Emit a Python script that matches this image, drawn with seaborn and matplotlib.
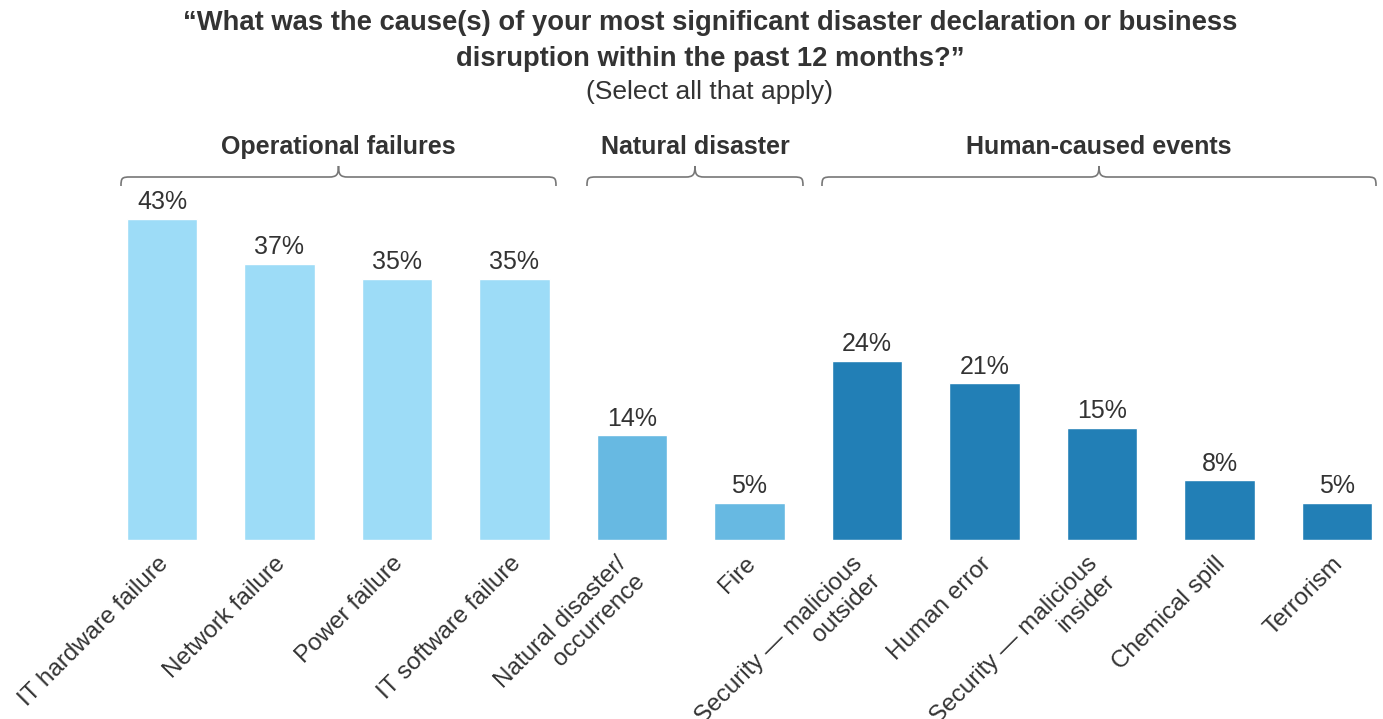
import matplotlib
matplotlib.use("Agg")
import matplotlib.pyplot as plt
from matplotlib.path import Path
from matplotlib.patches import PathPatch
from matplotlib.transforms import ScaledTranslation
import seaborn as sns
import pandas as pd

categories = ["IT hardware failure", "Network failure", "Power failure", "IT software failure",
              "Natural disaster/\noccurrence", "Fire",
              "Security — malicious\noutsider", "Human error", "Security — malicious\ninsider",
              "Chemical spill", "Terrorism"]
values = [43, 37, 35, 35, 14, 5, 24, 21, 15, 8, 5]
groups = ["Operational failures"] * 4 + ["Natural disaster"] * 2 + ["Human-caused events"] * 5
group_names = ["Operational failures", "Natural disaster", "Human-caused events"]
group_colors = ["#9DDCF7", "#67B9E2", "#227FB6"]

sns.set_theme(style="white")
plt.rcParams["font.family"] = ["Liberation Sans", "DejaVu Sans"]
TXT = "#333333"

df = pd.DataFrame({"cat": categories, "val": values, "grp": groups})

fig = plt.figure(figsize=(13.83, 7.19), dpi=100)
ax = fig.add_axes([0, (719 - 540) / 719, 1, 420 / 719])
sns.barplot(data=df, x="cat", y="val", hue="grp", hue_order=group_names,
            palette=group_colors, dodge=False, width=0.6, saturation=1,
            legend=False, ax=ax)
ax.set_xlim(-162 / 117.5, (1383 - 162) / 117.5)
ax.set_ylim(0, 420 / 7.47)
for s in ax.spines.values():
    s.set_visible(False)
ax.set_xlabel("")
ax.set_ylabel("")
ax.set_yticks([])
ax.tick_params(axis="x", length=0, pad=9)
ax.set_xticks(range(len(categories)))
ax.set_xticklabels(categories, rotation=45, ha="right", rotation_mode="anchor",
                   fontsize=17.5, color=TXT, multialignment="right", linespacing=1.2)
for lab in ax.get_xticklabels():
    dx = -0.16 if "\n" in lab.get_text() else -0.05
    lab.set_transform(lab.get_transform() +
                      ScaledTranslation(dx, 0.0, fig.dpi_scale_trans))

for i, v in enumerate(values):
    ax.text(i, v + 0.6, f"{v}%", ha="center", va="bottom", fontsize=18, color=TXT)

# braces and group labels (spans in bar-index units)
spans = [(-0.349, 3.353), (3.617, 5.455), (5.617, 10.332)]
y_line = (540 - 177) / 7.47
y_end = (540 - 186) / 7.47
y_tip = (540 - 166) / 7.47
y_lab = (540 - 147) / 7.47
for (x0, x1), name in zip(spans, group_names):
    xm = (x0 + x1) / 2
    r = 0.08
    dy = y_line - y_end
    ty = y_tip - y_line
    verts = [(x0, y_end), (x0, y_line - dy * 0.1), (x0 + r * 0.1, y_line), (x0 + r, y_line),
             (xm - r, y_line),
             (xm - r * 0.2, y_line), (xm, y_line + ty * 0.2), (xm, y_tip),
             (xm, y_line + ty * 0.2), (xm + r * 0.2, y_line), (xm + r, y_line),
             (x1 - r, y_line),
             (x1 - r * 0.1, y_line), (x1, y_line - dy * 0.1), (x1, y_end)]
    codes = [Path.MOVETO, Path.CURVE4, Path.CURVE4, Path.CURVE4,
             Path.LINETO,
             Path.CURVE4, Path.CURVE4, Path.CURVE4,
             Path.CURVE4, Path.CURVE4, Path.CURVE4,
             Path.LINETO,
             Path.CURVE4, Path.CURVE4, Path.CURVE4]
    ax.add_patch(PathPatch(Path(verts, codes), fill=False, edgecolor="#777777",
                           lw=1.2, clip_on=False))
    ax.text(xm, y_lab, name, ha="center", va="center", fontsize=18,
            fontweight="bold", color=TXT, clip_on=False)

fig.text(710 / 1383, 1 - 41 / 719,
         "“What was the cause(s) of your most significant disaster declaration or business\n"
         "disruption within the past 12 months?”",
         ha="center", va="center", fontsize=19.7, fontweight="bold", color=TXT,
         linespacing=1.5)
fig.text(710 / 1383, 1 - 92 / 719, "(Select all that apply)", ha="center", va="center",
         fontsize=19, color=TXT)

fig.savefig("out.png", dpi=100)
